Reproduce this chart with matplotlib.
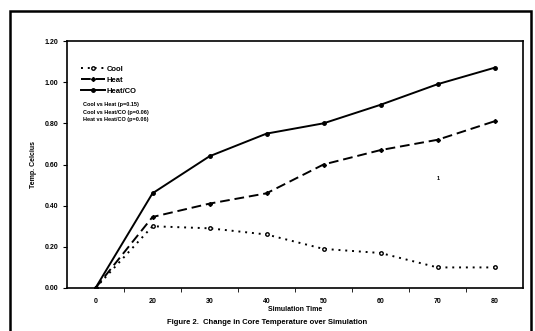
import matplotlib.pyplot as plt
from matplotlib.patches import Rectangle

times = ['0', '20', '30', '40', '50', '60', '70', '80']
cool = [0.00, 0.30, 0.29, 0.26, 0.19, 0.17, 0.10, 0.10]
heat = [0.00, 0.345, 0.41, 0.46, 0.60, 0.67, 0.72, 0.81]
heat_co = [0.00, 0.46, 0.64, 0.75, 0.80, 0.89, 0.99, 1.07]
stats = ['Cool vs Heat (p=0.15)', 'Cool vs Heat/CO (p=0.06)', 'Heat vs Heat/CO (p=0.06)']

plt.rcParams['font.family'] = ['Liberation Sans', 'DejaVu Sans']
plt.rcParams['font.weight'] = 'bold'
plt.rcParams['axes.labelweight'] = 'bold'

fig = plt.figure(figsize=(5.35, 3.31), dpi=100)
# outer frame around the whole figure
fig.patches.append(Rectangle((10 / 535, -0.02), 521 / 535, 1 - 11 / 331 + 0.02,
                             transform=fig.transFigure, fill=False, lw=1.8, ec='black'))

ax = fig.add_axes([67 / 535, 1 - 288 / 331, (523 - 67) / 535, (288 - 41) / 331])
x = range(len(times))
ax.plot(x, cool, color='black', ls=(0, (1, 2.5)), lw=1.4, marker='o', ms=2.5,
        mfc='white', label='Cool')
ax.plot(x, heat, color='black', ls=(0, (5, 2.5)), lw=1.4, marker='D', ms=2,
        label='Heat')
ax.plot(x, heat_co, color='black', ls='-', lw=1.4, marker='o', ms=2.5,
        label='Heat/CO')

ax.set_xlim(-0.5, len(times) - 0.5)
ax.set_ylim(0, 1.2)
ax.set_xticks(list(x))
ax.set_xticklabels(times, fontsize=5)
ax.set_xticks([i + 0.5 for i in x][:-1], minor=True)
ax.tick_params(axis='x', which='major', length=0, pad=7)
ax.tick_params(axis='x', which='minor', length=3, direction='out')
ax.set_yticks([0, 0.2, 0.4, 0.6, 0.8, 1.0, 1.2])
ax.set_yticklabels([f'{v:.2f}' for v in ax.get_yticks()], fontsize=5)
ax.tick_params(axis='y', length=3, direction='out', pad=3)
for s in ax.spines.values():
    s.set_linewidth(1.2)

ax.set_xlabel('Simulation Time', fontsize=5, labelpad=1, fontweight='bold')
ax.set_ylabel('Temp. Celcius', fontsize=5, labelpad=6, fontweight='bold')

ax.legend(loc='upper left', bbox_to_anchor=(0.015, 0.93), frameon=False,
          fontsize=5.5, handlelength=3.2, handletextpad=0.2, labelspacing=0.5)
for i, s in enumerate(stats):
    ax.text(0.035, 0.735 - i * 0.03, s, transform=ax.transAxes, fontsize=4)
ax.text(437, 331 - 178, '1', transform=None, fontsize=4, va='center')

fig.text(0.5, 1 - 323 / 331, 'Figure 2.  Change in Core Temperature over Simulation',
         ha='center', va='center', fontsize=5.5, fontweight='bold')

fig.savefig('out.png', dpi=100)
